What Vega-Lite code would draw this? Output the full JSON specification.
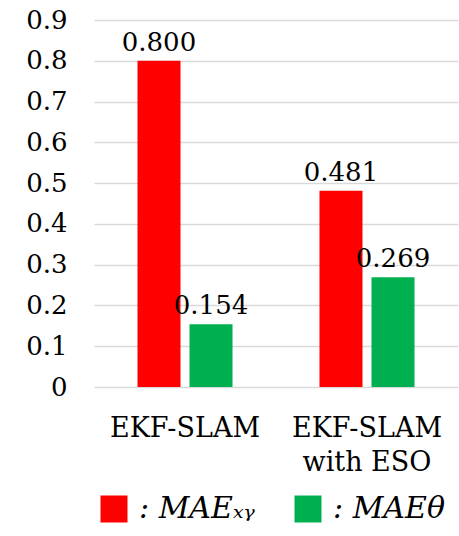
{
  "$schema": "https://vega.github.io/schema/vega-lite/v6.json",
  "width": 364,
  "height": 367,
  "autosize": "none",
  "padding": {"left": 94, "top": 20, "right": 1, "bottom": 149},
  "background": "white",
  "config": {
    "view": {"stroke": null},
    "font": "DejaVu Serif"
  },
  "data": {"values": [
    {"method": "EKF-SLAM", "metric": "xy", "value": 0.800},
    {"method": "EKF-SLAM", "metric": "theta", "value": 0.154},
    {"method": "EKF-SLAM with ESO", "metric": "xy", "value": 0.481},
    {"method": "EKF-SLAM with ESO", "metric": "theta", "value": 0.269}
  ]},
  "encoding": {
    "x": {
      "field": "method", "type": "nominal",
      "sort": ["EKF-SLAM", "EKF-SLAM with ESO"],
      "scale": {"paddingInner": 0, "paddingOuter": 0},
      "axis": {
        "title": null, "labelAngle": 0, "domain": false, "ticks": false,
        "labelFont": "DejaVu Serif",
        "labelFontSize": 27, "labelColor": "black", "labelPadding": 28,
        "labelLineHeight": 34,
        "labelExpr": "datum.value == 'EKF-SLAM with ESO' ? ['EKF-SLAM', 'with ESO'] : datum.value"
      }
    },
    "xOffset": {
      "field": "metric", "type": "nominal", "sort": ["xy", "theta"],
      "scale": {"paddingInner": 0.173, "paddingOuter": 0.836}
    },
    "y": {
      "field": "value", "type": "quantitative",
      "scale": {"domain": [0, 0.9], "nice": false},
      "axis": {
        "title": null, "domain": false, "ticks": false,
        "values": [0, 0.1, 0.2, 0.3, 0.4, 0.5, 0.6, 0.7, 0.8, 0.9],
        "labelFont": "DejaVu Serif",
        "labelFontSize": 26, "labelColor": "black", "labelPadding": 27,
        "gridColor": "#d9d9d9", "gridWidth": 1.5,
        "labelExpr": "datum.value == 0 ? '0' : format(datum.value, '.1f')"
      }
    }
  },
  "layer": [
    {
      "mark": {"type": "bar"},
      "encoding": {
        "color": {
          "field": "metric", "type": "nominal",
          "scale": {"domain": ["xy", "theta"], "range": ["#FF0000", "#00B050"]},
          "legend": {
            "orient": "none", "legendX": 5, "legendY": 474,
            "direction": "horizontal", "title": null, "padding": 0,
            "symbolType": "square", "symbolSize": 729, "symbolStrokeWidth": 0,
            "symbolOpacity": 1,
            "labelFont": "DejaVu Serif",
            "labelFontSize": 30, "labelFontStyle": "italic", "labelColor": "black",
            "labelOffset": 10, "columnPadding": 38, "labelLimit": 0,
            "labelExpr": "datum.value == 'xy' ? ': MAEₓᵧ' : ': MAEθ'"
          }
        }
      }
    },
    {
      "mark": {"type": "text", "baseline": "bottom", "dy": -5, "fontSize": 26, "color": "black", "font": "DejaVu Serif"},
      "encoding": {"text": {"field": "value", "type": "quantitative", "format": ".3f"}}
    }
  ]
}
